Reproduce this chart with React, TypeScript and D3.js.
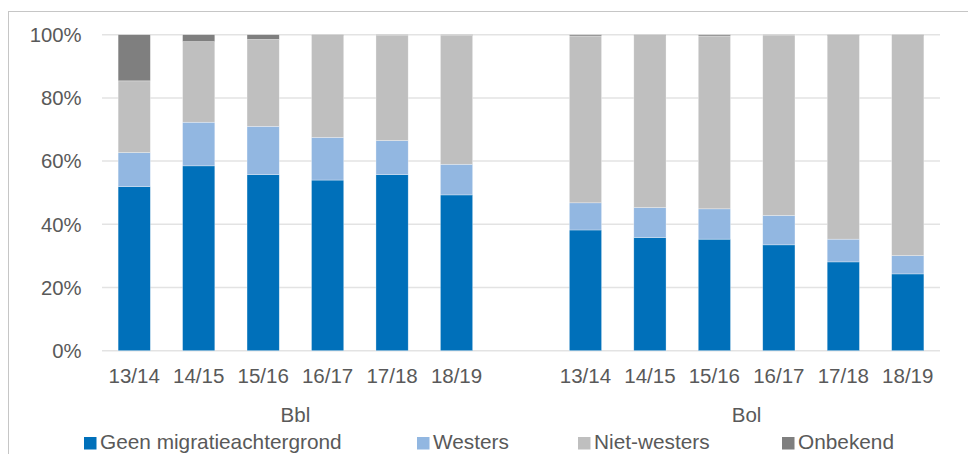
import React from "react";
import * as d3 from "d3";

const groups = ["Bbl", "Bol"];
const years = ["13/14", "14/15", "15/16", "16/17", "17/18", "18/19"];
const seriesNames = ["Geen migratieachtergrond", "Westers", "Niet-westers", "Onbekend"];
const seriesColors = ["#0070BA", "#92B7E1", "#BFBFBF", "#7F7F7F"];

// values per series, Bbl 13/14..18/19 then Bol 13/14..18/19 (percent)
const geen = [51.9, 58.5, 55.7, 54.0, 55.7, 49.3, 38.2, 35.8, 35.3, 33.5, 28.1, 24.3];
const westers = [10.8, 13.8, 15.3, 13.5, 10.8, 9.7, 8.6, 9.5, 9.6, 9.3, 7.2, 5.8];
const nietWesters = [22.7, 25.5, 27.5, 32.2, 33.3, 40.8, 52.8, 54.4, 54.7, 57.1, 64.4, 69.6];
const onbekend = [14.6, 2.2, 1.5, 0.3, 0.2, 0.2, 0.4, 0.3, 0.4, 0.1, 0.3, 0.3];

const yTicks = [0, 20, 40, 60, 80, 100];

const W = 968;
const H = 454;
const font = "'Liberation Sans', Arial, sans-serif";
const textColor = "#595959";

export default function App() {
  const plotLeft = 102;
  const plotRight = 940;
  const yTop = 34.7;
  const yBottom = 350.7;

  // 13 slots: 6 Bbl, 1 gap, 6 Bol
  const slots: string[] = [];
  groups.forEach((g, gi) => {
    years.forEach((y) => slots.push(g + "|" + y));
    if (gi < groups.length - 1) slots.push("gap");
  });

  const x = d3
    .scaleBand<string>()
    .domain(slots.map((s, i) => s + "#" + i))
    .range([plotLeft, plotRight])
    .paddingInner(0.5)
    .paddingOuter(0.25);

  const y = d3.scaleLinear().domain([0, 100]).range([yBottom, yTop]);

  const rows = groups.flatMap((g, gi) =>
    years.map((yr, yi) => {
      const i = gi * years.length + yi;
      return {
        key: g + "|" + yr,
        slot: gi * (years.length + 1) + yi,
        year: yr,
        s0: geen[i],
        s1: westers[i],
        s2: nietWesters[i],
        s3: onbekend[i],
      };
    })
  );

  const stack = d3.stack<any>().keys(["s0", "s1", "s2", "s3"]);
  const stacked = stack(rows);
  const domain = x.domain();
  const step = x.step();

  const legendX = [84, 417, 578, 782];

  return (
    <svg
      width={W}
      height={H}
      style={{ position: "absolute", left: 0, top: 0, background: "#fff" }}
      fontFamily={font}
    >
      <rect x={8.5} y={11.5} width={1100} height={1000} fill="#fff" stroke="#C6C6C6" strokeWidth={1} />
      {yTicks.map((t) => (
        <g key={t}>
          <line x1={plotLeft} x2={plotRight} y1={y(t)} y2={y(t)} stroke="#E3E3E3" strokeWidth={1.5} />
          <text x={81.5} y={y(t) + 7.3} textAnchor="end" fontSize={20.3} fill={textColor}>
            {t + "%"}
          </text>
        </g>
      ))}
      {stacked.map((layer, li) => (
        <g key={li} fill={seriesColors[li]}>
          {layer.map((d, i) => {
            const r = rows[i];
            const bx = x(domain[r.slot]) as number;
            return (
              <rect
                key={i}
                x={bx}
                width={x.bandwidth()}
                y={y(d[1])}
                height={Math.max(0, y(d[0]) - y(d[1]))}
                stroke="#ffffff"
                strokeOpacity={0.5}
                strokeWidth={0.6}
              />
            );
          })}
        </g>
      ))}
      {rows.map((r, i) => {
        const cx = (x(domain[r.slot]) as number) + x.bandwidth() / 2;
        return (
          <text key={i} x={cx} y={383} textAnchor="middle" fontSize={20.5} fill={textColor}>
            {r.year}
          </text>
        );
      })}
      {groups.map((g, gi) => {
        const first = gi * (years.length + 1);
        const last = first + years.length - 1;
        const cx =
          ((x(domain[first]) as number) + (x(domain[last]) as number) + x.bandwidth()) / 2;
        return (
          <text key={g} x={cx} y={421.5} textAnchor="middle" fontSize={20.5} fill={textColor}>
            {g}
          </text>
        );
      })}
      {seriesNames.map((n, i) => (
        <g key={n}>
          <rect x={legendX[i]} y={437} width={12.5} height={12.5} fill={seriesColors[i]} />
          <text x={legendX[i] + 16} y={448.5} fontSize={20.8} fill={textColor}>
            {n}
          </text>
        </g>
      ))}
    </svg>
  );
}
